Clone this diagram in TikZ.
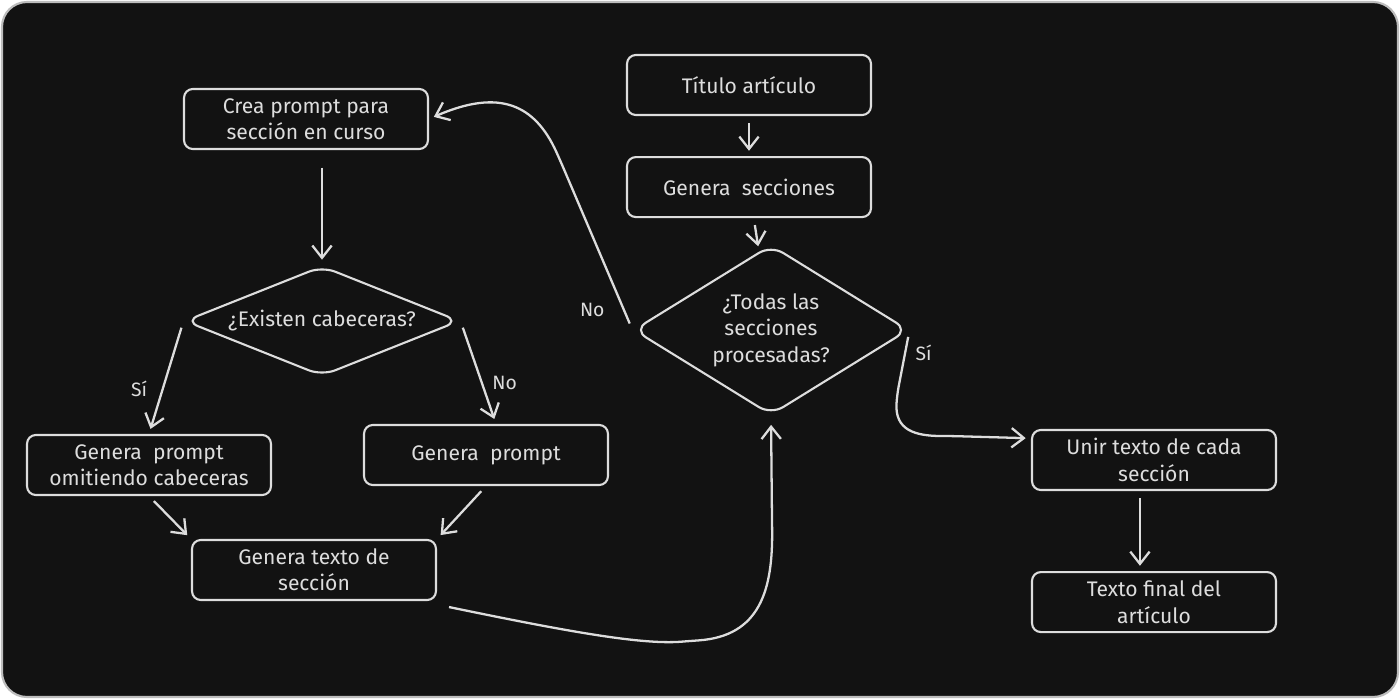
\documentclass[tikz,border=0pt]{standalone}
\usepackage{fontspec}
\setmainfont{Fira Sans}
\usepackage{xcolor}
\usetikzlibrary{arrows.meta,positioning,shapes.geometric,calc}
\definecolor{fondo}{HTML}{121212}
\definecolor{trazo}{HTML}{DDDDDD}
\definecolor{marco}{HTML}{BDBDBD}

\begin{document}
\begin{tikzpicture}[x=0.02cm,y=-0.02cm,node distance=0.8cm,>={Straight Barb[length=7pt,width=11pt]},font=\fontsize{12}{15}\selectfont,rounded corners=5pt]
        \tikzstyle{block}=[rectangle,minimum width=4.88cm,minimum height=1.2cm,draw=trazo,line width=1.2pt,align=center,text=trazo,fill=fondo]
        \tikzstyle{decision}=[diamond,draw=trazo,line width=1.2pt,align=center,text=trazo,fill=fondo,inner sep=0pt,rounded corners=8pt]
        \tikzstyle{flecha}=[->,draw=trazo,line width=1.3pt,shorten <=4pt,shorten >=3pt]
        \tikzstyle{etiqueta}=[text=trazo,font=\fontsize{11}{13}\selectfont]
        \path[use as bounding box,fill=white] (0,0) rectangle (1400,699);
        \draw[fill=fondo,draw=marco,line width=1.2pt,rounded corners=0.5cm] (2,2) rectangle (1398,697);
        \node[block] (titulo) at (749,85) {Título artículo};
        \node[block,below=0.8cm of titulo] (secciones) {Genera~~secciones};
        \node[decision,aspect=1.64,minimum width=5.5cm,minimum height=3.4cm] (todas) at (771,330) {¿Todas las\\secciones\\procesadas?};
        \node[block] (crea) at (306,119) {Crea prompt para\\sección en curso};
        \node[decision,aspect=2.55,minimum width=5.5cm,minimum height=2.2cm] (existen) at (322,321) {¿Existen cabeceras?};
        \node[block] (omitiendo) at (149,465) {Genera~~prompt\\omitiendo cabeceras};
        \node[block] (prompt) at (486,455) {Genera~~prompt};
        \node[block] (texto) at (314,570) {Genera texto de\\sección};
        \node[block] (unir) at (1154,460) {Unir texto de cada\\sección};
        \node[block,below=1.6cm of unir] (final) {Texto final del\\artículo};
        \draw[flecha] (titulo) -- (secciones);
        \draw[flecha] (secciones) -- (todas);
        \draw[flecha,shorten <=10pt] (crea.south -| existen.north) -- (existen.north);
        \draw[flecha] (existen.west) -- node[etiqueta,pos=0.6,left=5pt]{Sí} (omitiendo.north);
        \draw[flecha] (existen.east) -- node[etiqueta,pos=0.6,right=2pt]{No} ([xshift=0.2cm]prompt.north);
        \draw[flecha] (omitiendo.south) -- (texto.north west);
        \draw[flecha] (prompt.south) -- (texto.north east);
        \draw[flecha,shorten <=0pt,shorten >=5pt] ($(texto.south east)+(12,6)$) .. controls (560,630) and (640,645) .. (690,641) .. controls (760,636) and (773,590) .. (772,520) -- (todas.south);
        \draw[flecha] (todas.west) -- node[etiqueta,pos=0.12,left=7pt]{No} (560,160) .. controls (535,105) and (500,88) .. (crea.east);
        \draw[flecha] (todas.east) -- node[etiqueta,pos=0.35,right=2pt]{Sí} (897,395) .. controls (895,430) and (915,436) .. (950,436) -- (unir.170);
        \draw[flecha] ([xshift=-8pt]unir.south) -- ([xshift=-8pt]final.north);
\end{tikzpicture}
\end{document}
